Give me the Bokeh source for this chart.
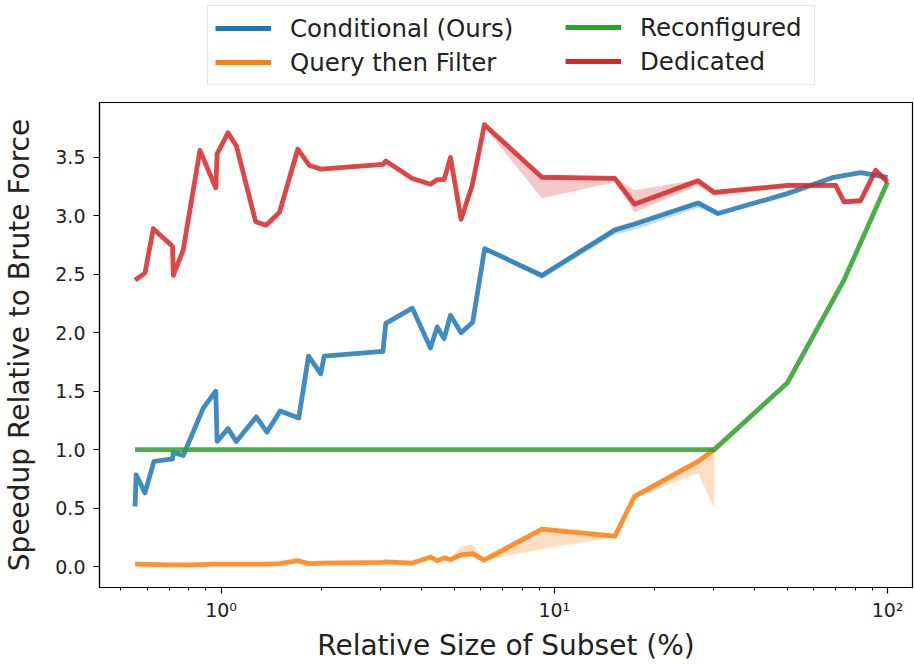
from bokeh.plotting import figure
from bokeh.layouts import column
from bokeh.models import Range1d, FixedTicker, Legend, LegendItem, PrintfTickFormatter
from bokeh.embed import file_html
from bokeh.resources import INLINE

# ---------------- data ----------------
series_names = ["Conditional (Ours)", "Query then Filter", "Reconfigured", "Dedicated"]

cond_x = [0.552, 0.556, 0.591, 0.629, 0.715, 0.719, 0.770, 0.884, 0.964, 0.973, 1.049, 1.111,
          1.275, 1.373, 1.504, 1.71, 1.83, 1.99, 2.04, 3.06, 3.12, 3.75, 4.25, 4.45, 4.67,
          4.88, 5.25, 5.69, 6.18, 9.18, 15.2, 17.4, 27.0, 31.0, 50.0, 69.0, 83.0, 100.0]
cond_y = [0.515, 0.785, 0.63, 0.90, 0.92, 0.976, 0.95, 1.355, 1.50, 1.07, 1.18, 1.07,
          1.28, 1.15, 1.33, 1.27, 1.80, 1.65, 1.80, 1.84, 2.08, 2.21, 1.87, 2.05, 1.95,
          2.15, 2.00, 2.09, 2.72, 2.49, 2.88, 2.93, 3.11, 3.02, 3.19, 3.33, 3.37, 3.33]
cond_band_x = [6.18, 9.18, 15.2, 17.4, 27.0, 31.0]
cond_band_lo = [2.70, 2.46, 2.84, 2.88, 3.07, 3.00]
cond_band_hi = [2.73, 2.51, 2.89, 2.94, 3.12, 3.03]

qtf_x = [0.552, 0.70, 0.80, 0.97, 1.11, 1.37, 1.50, 1.70, 1.83, 2.04, 3.06, 3.12, 3.75,
         4.25, 4.45, 4.67, 4.88, 5.25, 5.69, 6.15, 9.18, 15.2, 17.4, 27.0, 30.2]
qtf_y = [0.02, 0.015, 0.015, 0.02, 0.02, 0.02, 0.025, 0.05, 0.025, 0.03, 0.035, 0.04, 0.03,
         0.08, 0.05, 0.074, 0.06, 0.10, 0.11, 0.054, 0.32, 0.26, 0.60, 0.90, 1.00]
qtf_band_x = [3.06, 3.12, 3.75, 4.25, 4.45, 4.67, 4.88, 5.25, 5.69, 6.15, 9.18, 15.2, 17.4, 27.0, 30.2]
qtf_band_lo = [0.03, 0.035, 0.025, 0.07, 0.045, 0.06, 0.05, 0.08, 0.09, 0.05, 0.15, 0.25, 0.58, 0.80, 0.50]
qtf_band_hi = [0.04, 0.045, 0.035, 0.09, 0.055, 0.08, 0.07, 0.17, 0.19, 0.06, 0.32, 0.27, 0.61, 0.91, 1.03]

reconf_x = [0.552, 30.2, 50.0, 74.0, 100.0]
reconf_y = [1.0, 1.0, 1.57, 2.45, 3.29]

ded_x = [0.552, 0.591, 0.626, 0.715, 0.719, 0.770, 0.864, 0.964, 0.973, 1.049, 1.111, 1.270,
         1.366, 1.497, 1.699, 1.842, 1.994, 3.06, 3.12, 3.75, 4.25, 4.45, 4.67, 4.88, 5.25,
         5.67, 6.17, 9.18, 15.2, 17.4, 27.0, 30.2, 50.1, 69.9, 74.0, 83.0, 92.1, 100.0]
ded_y = [2.45, 2.51, 2.89, 2.74, 2.49, 2.71, 3.56, 3.24, 3.53, 3.71, 3.60, 2.95,
         2.92, 3.03, 3.57, 3.43, 3.40, 3.44, 3.47, 3.32, 3.27, 3.31, 3.31, 3.50, 2.97,
         3.26, 3.78, 3.33, 3.32, 3.10, 3.30, 3.20, 3.26, 3.26, 3.12, 3.13, 3.39, 3.29]
ded_band_x = [5.25, 5.67, 6.17, 9.18, 15.2, 17.4, 27.0, 30.2, 50.1, 69.9, 74.0, 83.0, 92.1, 100.0]
ded_band_lo = [2.95, 3.22, 3.76, 3.15, 3.29, 3.03, 3.26, 3.17, 3.24, 3.24, 3.10, 3.10, 3.36, 3.27]
ded_band_hi = [3.00, 3.30, 3.78, 3.34, 3.33, 3.22, 3.31, 3.22, 3.27, 3.27, 3.14, 3.15, 3.40, 3.30]

x_major_ticks = [1, 10, 100]
x_minor_ticks = [0.5, 0.6, 0.7, 0.8, 0.9, 2, 3, 4, 5, 6, 7, 8, 9, 20, 30, 40, 50, 60, 70, 80, 90]
x_tick_labels = {1: "10\u2070", 10: "10\u00b9", 100: "10\u00b2"}
y_ticks = [0.0, 0.5, 1.0, 1.5, 2.0, 2.5, 3.0, 3.5]

colors = ["#1f77b4", "#ff7f0e", "#2ca02c", "#d62728"]
FONT = "DejaVu Sans"
LW = 4.8
ALPHA = 0.85

all_x = [cond_x, qtf_x, reconf_x, ded_x]
all_y = [cond_y, qtf_y, reconf_y, ded_y]

BORDER_L, BORDER_R = 96, 2

# ---------------- main figure ----------------
p = figure(width=914, height=570, x_axis_type="log", output_backend="svg", toolbar_location=None,
           x_range=Range1d(0.4317, 118.8), y_range=Range1d(-0.1793, 3.9696),
           min_border_left=BORDER_L, min_border_top=8, min_border_bottom=76,
           min_border_right=BORDER_R)

p.xgrid.visible = False
p.ygrid.visible = False
p.outline_line_color = "black"
p.outline_line_width = 1.2
p.background_fill_color = "white"
p.border_fill_color = "white"

# confidence bands
p.varea(x=cond_band_x, y1=cond_band_lo, y2=cond_band_hi, fill_color=colors[0], fill_alpha=0.25)
p.varea(x=qtf_band_x, y1=qtf_band_lo, y2=qtf_band_hi, fill_color=colors[1], fill_alpha=0.25)
p.varea(x=ded_band_x, y1=ded_band_lo, y2=ded_band_hi, fill_color=colors[3], fill_alpha=0.25)

for xs, ys, c in zip(all_x, all_y, colors):
    p.line(xs, ys, line_color=c, line_width=LW, line_alpha=ALPHA, line_join="round")

xa = p.xaxis[0]
xa.ticker = FixedTicker(ticks=x_major_ticks, minor_ticks=x_minor_ticks)
xa.major_label_overrides = x_tick_labels
xa.axis_label = "Relative Size of Subset (%)"
ya = p.yaxis[0]
ya.ticker = FixedTicker(ticks=y_ticks)
ya.formatter = PrintfTickFormatter(format="%.1f")
ya.axis_label = "Speedup Relative to Brute Force"
ya.minor_tick_line_color = None

for ax in (xa, ya):
    ax.axis_line_color = "black"
    ax.axis_line_width = 1.2
    ax.major_tick_line_color = "black"
    ax.major_tick_line_width = 1.2
    ax.major_tick_in = 0
    ax.major_tick_out = 6
    ax.minor_tick_in = 0
    ax.minor_tick_out = 3
    ax.minor_tick_line_width = 1
    ax.major_label_text_font = FONT
    ax.major_label_text_font_size = "19px"
    ax.major_label_text_color = "#222222"
    ax.axis_label_text_font = FONT
    ax.axis_label_text_font_size = "28px"
    ax.axis_label_text_font_style = "normal"
    ax.axis_label_text_color = "#222222"
ya.major_label_standoff = 8
ya.axis_label_standoff = 16
xa.major_label_standoff = 5
xa.axis_label_standoff = 5

# ---------------- legend strip above the plot ----------------
lg = figure(width=914, height=94, output_backend="svg", toolbar_location=None,
            x_axis_location=None, y_axis_location=None,
            x_range=Range1d(1000, 1001), y_range=Range1d(1000, 1001),
            min_border_left=BORDER_L, min_border_right=BORDER_R,
            min_border_top=0, min_border_bottom=0)
lg.xgrid.visible = False
lg.ygrid.visible = False
lg.outline_line_color = None
lg.background_fill_color = "white"
lg.border_fill_color = "white"

# legend keys: the same series, drawn outside the (hidden) view of this strip
keys = [lg.line(xs, ys, line_color=c, line_width=LW) for xs, ys, c in zip(all_x, all_y, colors)]

common = dict(padding=7, spacing=4, glyph_width=56, glyph_height=30, label_height=30,
              label_standoff=19, margin=0, label_text_font=FONT, label_text_font_size="24.5px",
              label_text_color="#222222")
leg_a = Legend(items=[LegendItem(label=series_names[0], renderers=[keys[0]]),
                      LegendItem(label=series_names[1], renderers=[keys[1]])],
               location=(108, 9), label_width=517, border_line_color="#cccccc",
               border_line_width=1, background_fill_color="white", background_fill_alpha=0.8,
               **common)
leg_b = Legend(items=[LegendItem(label=series_names[2], renderers=[keys[2]]),
                      LegendItem(label=series_names[3], renderers=[keys[3]])],
               location=(466, 18), label_width=150, border_line_color=None,
               background_fill_alpha=0.0, **common)
lg.add_layout(leg_a, "center")
lg.add_layout(leg_b, "center")

layout = column(lg, p, spacing=0)
open("out.html", "w").write(file_html(layout, INLINE))
